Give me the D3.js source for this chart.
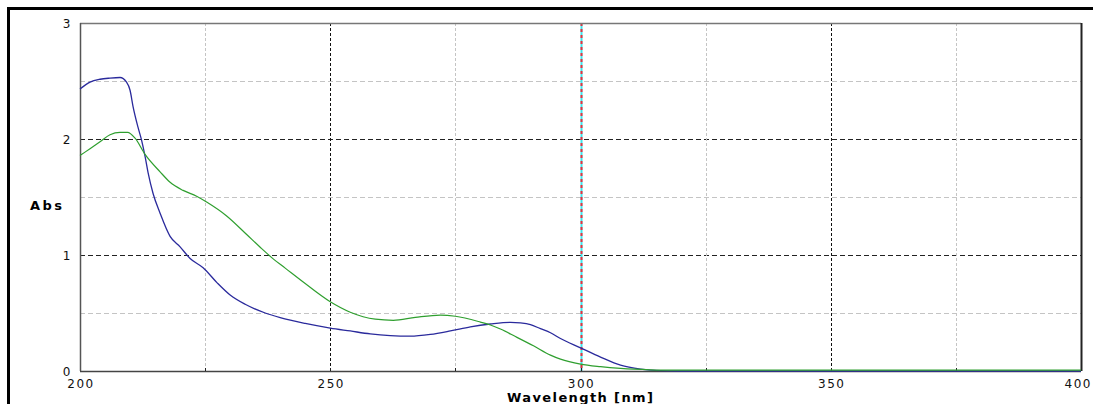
<!DOCTYPE html>
<html>
<head>
<meta charset="utf-8">
<script src="https://cdn.jsdelivr.net/npm/d3@7"></script>
<style>
  html, body { margin: 0; padding: 0; background: #fff; }
  svg { display: block; }
  .tick-label { font-family: "DejaVu Sans", sans-serif; font-size: 12px; fill: #111; letter-spacing: 1.5px; }
  .axis-title { font-family: "DejaVu Sans", sans-serif; font-size: 13px; font-weight: bold; fill: #000; }
</style>
</head>
<body>
<div id="chart"></div>
<script>
// spectra: [wavelength nm, absorbance]
var blueSeries = [
  [200, 2.43], [202, 2.49], [204, 2.515], [206, 2.525], [208, 2.53], [209.3, 2.49],
  [210, 2.42], [210.6, 2.28], [211.6, 2.1], [212.3, 1.99], [213, 1.85], [213.6, 1.71],
  [214.6, 1.53], [216, 1.36], [218, 1.16], [220, 1.07], [222, 0.97], [224.6, 0.89],
  [227.4, 0.76], [230, 0.655], [233, 0.575], [237, 0.5], [240, 0.46], [245, 0.41],
  [250, 0.37], [254, 0.345], [258, 0.32], [262, 0.305], [266, 0.3], [270, 0.315],
  [274, 0.345], [278, 0.38], [282, 0.405], [286, 0.42], [288, 0.415], [290, 0.4],
  [292, 0.365], [294, 0.33], [296, 0.28], [300, 0.2], [304, 0.12], [308, 0.05],
  [312, 0.017], [316, 0.003], [320, 0], [360, 0], [400, 0]
];
var greenSeries = [
  [200, 1.85], [202, 1.91], [204, 1.97], [206, 2.03], [208, 2.05], [209.5, 2.05],
  [211, 2.0], [213, 1.86], [216, 1.71], [218, 1.62], [220.6, 1.55], [223.3, 1.5],
  [225.3, 1.45], [229.3, 1.33], [233.3, 1.17], [236, 1.06], [238.6, 0.96], [241, 0.88],
  [244.6, 0.76], [250, 0.59], [254, 0.5], [259, 0.44], [262.6, 0.43], [267, 0.455],
  [272, 0.475], [275, 0.465], [280, 0.415], [282, 0.39], [284, 0.355], [287, 0.29],
  [290.6, 0.21], [294, 0.13], [296, 0.095], [300, 0.052], [304, 0.03], [308, 0.015],
  [314, 0.003], [318, 0], [360, 0], [400, 0]
];
var xTickLabels = [200, 250, 300, 350, 400];
var yTickLabels = [0, 1, 2, 3];
var xMinorGrid = [225, 275, 325, 375];
var xMajorGrid = [250, 350];
var xMarker = 300;
var yMinorGrid = [0.5, 1.5, 2.5];
var yMajorGrid = [1, 2];

var W = 1093, H = 404;
var margin = {top: 23, right: 12, bottom: 33, left: 80};
var width = W - margin.left - margin.right;   // 1001
var height = H - margin.top - margin.bottom;  // 348

var svg = d3.select("#chart").append("svg")
  .attr("width", W)
  .attr("height", H);

// outer window frame
svg.append("path")
  .attr("d", "M8.5," + H + "V8.5H" + W)
  .attr("fill", "none")
  .attr("stroke", "#000")
  .attr("stroke-width", 3);

var g = svg.append("g")
  .attr("transform", "translate(" + margin.left + "," + margin.top + ")");

var x = d3.scaleLinear().domain([200, 400]).range([0, width]);
var y = d3.scaleLinear().domain([0, 3]).range([height, 0]);

// grid
g.selectAll(".hminor").data(yMinorGrid).enter().append("line")
  .attr("x1", 0).attr("x2", width)
  .attr("y1", function(d){ return Math.round(y(d)) + 0.5; })
  .attr("y2", function(d){ return Math.round(y(d)) + 0.5; })
  .attr("stroke", "#c4c4c4").attr("stroke-dasharray", "5,3");

g.selectAll(".hmajor").data(yMajorGrid).enter().append("line")
  .attr("x1", 0).attr("x2", width)
  .attr("y1", function(d){ return Math.round(y(d)) + 0.5; })
  .attr("y2", function(d){ return Math.round(y(d)) + 0.5; })
  .attr("stroke", "#222").attr("stroke-dasharray", "5,3");

g.selectAll(".vminor").data(xMinorGrid).enter().append("line")
  .attr("y1", 0).attr("y2", height)
  .attr("x1", function(d){ return Math.round(x(d)) + 0.5; })
  .attr("x2", function(d){ return Math.round(x(d)) + 0.5; })
  .attr("stroke", "#c4c4c4").attr("stroke-dasharray", "3,2");

g.selectAll(".vmajor").data(xMajorGrid).enter().append("line")
  .attr("y1", 0).attr("y2", height)
  .attr("x1", function(d){ return Math.round(x(d)) + 0.5; })
  .attr("x2", function(d){ return Math.round(x(d)) + 0.5; })
  .attr("stroke", "#111").attr("stroke-dasharray", "3,2");

// cursor marker at 300 nm
var mx = Math.round(x(xMarker)) + 0.5;
g.append("line")
  .attr("y1", 0).attr("y2", height)
  .attr("x1", mx).attr("x2", mx)
  .attr("stroke", "#40e4ec").attr("stroke-width", 2);
g.append("line")
  .attr("y1", 0).attr("y2", height)
  .attr("x1", mx).attr("x2", mx)
  .attr("stroke", "#e8303c").attr("stroke-width", 2).attr("stroke-dasharray", "3,3");

// plot border
g.append("line").attr("x1", 0).attr("x2", width).attr("y1", 0.5).attr("y2", 0.5)
  .attr("stroke", "#777").attr("stroke-width", 1.5);
g.append("line").attr("x1", width + 0.5).attr("x2", width + 0.5).attr("y1", 0).attr("y2", height)
  .attr("stroke", "#222").attr("stroke-width", 2);
g.append("line").attr("x1", 0.5).attr("x2", 0.5).attr("y1", 0).attr("y2", height)
  .attr("stroke", "#555").attr("stroke-width", 1.5);
g.append("line").attr("x1", 0).attr("x2", width).attr("y1", height + 0.5).attr("y2", height + 0.5)
  .attr("stroke", "#444").attr("stroke-width", 1.5);

// small ticks on bottom axis
g.selectAll(".xtick").data(d3.range(225, 400, 25)).enter().append("line")
  .attr("x1", function(d){ return Math.round(x(d)) + 0.5; })
  .attr("x2", function(d){ return Math.round(x(d)) + 0.5; })
  .attr("y1", height).attr("y2", height - 3)
  .attr("stroke", "#222");

// spectra
var line = d3.line()
  .x(function(d){ return x(d[0]); })
  .y(function(d){ return y(d[1]); })
  .curve(d3.curveMonotoneX);

g.append("path").datum(blueSeries)
  .attr("d", line)
  .attr("fill", "none")
  .attr("stroke", "#2a2a9c")
  .attr("stroke-width", 1.3);

g.append("path").datum(greenSeries)
  .attr("d", line)
  .attr("fill", "none")
  .attr("stroke", "#2f9f2f")
  .attr("stroke-width", 1.2)
  .attr("transform", "translate(0,-0.8)");

// tick labels
g.selectAll(".ylab").data(yTickLabels).enter().append("text")
  .attr("class", "tick-label")
  .attr("x", -8)
  .attr("y", function(d){ return y(d) + 5; })
  .attr("text-anchor", "end")
  .text(function(d){ return d; });

g.selectAll(".xlab").data(xTickLabels).enter().append("text")
  .attr("class", "tick-label")
  .attr("x", function(d, i){ return i === xTickLabels.length - 1 ? width + 11 : x(d) + 1; })
  .attr("y", height + 17)
  .attr("text-anchor", function(d, i){ return i === xTickLabels.length - 1 ? "end" : "middle"; })
  .text(function(d){ return d; });

// axis titles
svg.append("text")
  .attr("class", "axis-title")
  .attr("x", 30)
  .attr("y", 210)
  .attr("textLength", 32)
  .attr("lengthAdjust", "spacing")
  .text("Abs");

svg.append("text")
  .attr("class", "axis-title")
  .attr("x", 507)
  .attr("y", 402)
  .attr("textLength", 146)
  .attr("lengthAdjust", "spacing")
  .text("Wavelength [nm]");
</script>
</body>
</html>
